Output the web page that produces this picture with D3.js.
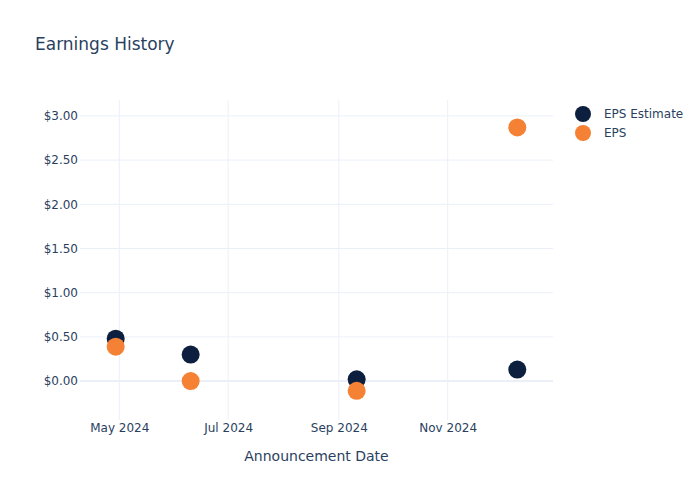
<!DOCTYPE html>
<html>
<head>
<meta charset="utf-8">
<script src="https://cdn.jsdelivr.net/npm/d3@7"></script>
<style>
  body { margin: 0; background: #fff; }
  text { font-family: "DejaVu Sans", "Open Sans", sans-serif; fill: #2a3f5f; }
</style>
</head>
<body>
<svg id="chart" width="700" height="500"></svg>
<script>
const width = 700;
const height = 500;
const margin = { top: 100, right: 147, bottom: 80, left: 80 };

const dates = ["2024-04-29", "2024-06-10", "2024-09-11", "2024-12-10"];
const epsEstimate = [0.48, 0.30, 0.02, 0.13];
const eps = [0.39, 0.00, -0.11, 2.87];
const yTicks = [0, 0.5, 1, 1.5, 2, 2.5, 3];
const xTicks = ["2024-05-01", "2024-07-01", "2024-09-01", "2024-11-01"];

const navy = "#0c1f3f";
const orange = "#f58134";
const grid = "#ebf0f8";

const parse = d3.utcParse("%Y-%m-%d");

const svg = d3.select("#chart");

const x = d3
  .scaleUtc()
  .domain([parse("2024-04-09"), parse("2024-12-30")])
  .range([margin.left, width - margin.right]);

const y = d3
  .scaleLinear()
  .domain([-0.44, 3.18])
  .range([height - margin.bottom, margin.top]);

// grid
svg
  .append("g")
  .selectAll("line")
  .data(xTicks)
  .enter()
  .append("line")
  .attr("x1", (d) => x(parse(d)))
  .attr("x2", (d) => x(parse(d)))
  .attr("y1", margin.top)
  .attr("y2", height - margin.bottom)
  .attr("stroke", grid)
  .attr("stroke-width", 1);

svg
  .append("g")
  .selectAll("line")
  .data(yTicks)
  .enter()
  .append("line")
  .attr("x1", margin.left)
  .attr("x2", width - margin.right)
  .attr("y1", (d) => y(d))
  .attr("y2", (d) => y(d))
  .attr("stroke", grid)
  .attr("stroke-width", (d) => (d === 0 ? 2 : 1));

// axes (labels only, plotly style)
const yAxis = d3
  .axisLeft(y)
  .tickValues(yTicks)
  .tickSize(0)
  .tickPadding(2)
  .tickFormat((d) => "$" + d3.format(".2f")(d));

svg
  .append("g")
  .attr("transform", `translate(${margin.left},0)`)
  .call(yAxis)
  .call((g) => g.select(".domain").remove())
  .selectAll("text")
  .attr("font-size", 12)
  .attr("font-family", "DejaVu Sans, sans-serif")
  .style("fill", "#2a3f5f");

const xAxis = d3
  .axisBottom(x)
  .tickValues(xTicks.map(parse))
  .tickSize(0)
  .tickPadding(3)
  .tickFormat(d3.utcFormat("%b %Y"));

svg
  .append("g")
  .attr("transform", `translate(0,${height - margin.bottom})`)
  .call(xAxis)
  .call((g) => g.select(".domain").remove())
  .selectAll("text")
  .attr("font-size", 12)
  .attr("font-family", "DejaVu Sans, sans-serif")
  .style("fill", "#2a3f5f");

// points
const series = [
  { name: "EPS Estimate", values: epsEstimate, color: navy },
  { name: "EPS", values: eps, color: orange },
];

series.forEach((s) => {
  svg
    .append("g")
    .selectAll("circle")
    .data(s.values)
    .enter()
    .append("circle")
    .attr("cx", (d, i) => x(parse(dates[i])))
    .attr("cy", (d) => y(d))
    .attr("r", 9)
    .attr("fill", s.color);
});

// titles
svg
  .append("text")
  .attr("x", 35)
  .attr("y", 50)
  .attr("font-size", 17)
  .text("Earnings History");

svg
  .append("text")
  .attr("x", (margin.left + width - margin.right) / 2)
  .attr("y", 461)
  .attr("text-anchor", "middle")
  .attr("font-size", 14)
  .text("Announcement Date");

// legend
const legend = svg
  .append("g")
  .selectAll("g")
  .data(series)
  .enter()
  .append("g")
  .attr("transform", (d, i) => `translate(583,${114 + i * 19})`);

legend.append("circle").attr("r", 8).attr("fill", (d) => d.color);

legend
  .append("text")
  .attr("x", 21)
  .attr("y", 4)
  .attr("font-size", 12)
  .text((d) => d.name);
</script>
</body>
</html>
